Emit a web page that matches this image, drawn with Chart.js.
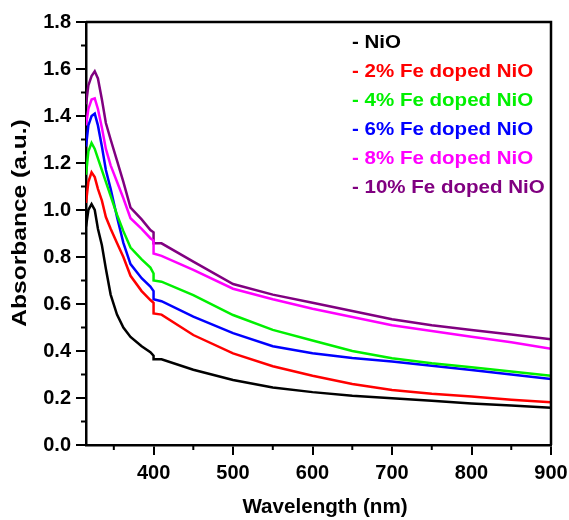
<!DOCTYPE html>
<html>
<head>
<meta charset="utf-8">
<script src="https://cdn.jsdelivr.net/npm/chart.js@4.4.1/dist/chart.umd.min.js"></script>
<style>
    html, body { margin: 0; padding: 0; background: #fff; }
    #wrap { width: 569px; height: 520px; }
</style>
</head>
<body>
<div id="wrap"><canvas id="myChart" width="569" height="520"></canvas></div>
<script>
// wavelengths (nm); 400 appears twice because of the lamp change step
const wavelengths = [315, 318, 322, 326, 330, 335, 340, 346, 354, 362, 371, 385, 396, 400, 400, 410, 450, 500, 550, 600, 650, 700, 750, 800, 850, 900];

const labels = ['NiO', '2% Fe doped NiO', '4% Fe doped NiO', '6% Fe doped NiO', '8% Fe doped NiO', '10% Fe doped NiO'];
const colors = ['#000000', '#ff0000', '#00f000', '#0000ff', '#ff00ff', '#800080'];

const nio   = [0.93, 1.00, 1.025, 1.00, 0.92, 0.85, 0.75, 0.64, 0.555, 0.50, 0.46, 0.42, 0.395, 0.38, 0.365, 0.365, 0.32, 0.277, 0.245, 0.225, 0.21, 0.199, 0.188, 0.177, 0.168, 0.159];
const fe2   = [1.03, 1.12, 1.16, 1.14, 1.09, 1.04, 0.97, 0.92, 0.86, 0.80, 0.72, 0.655, 0.617, 0.605, 0.56, 0.555, 0.468, 0.39, 0.335, 0.295, 0.26, 0.234, 0.218, 0.206, 0.193, 0.182];
const fe4   = [1.15, 1.25, 1.285, 1.26, 1.22, 1.17, 1.12, 1.06, 0.98, 0.91, 0.84, 0.79, 0.755, 0.73, 0.70, 0.695, 0.638, 0.553, 0.49, 0.445, 0.40, 0.369, 0.348, 0.331, 0.313, 0.295];
const fe6   = [1.27, 1.36, 1.40, 1.41, 1.36, 1.27, 1.17, 1.09, 0.97, 0.86, 0.77, 0.71, 0.674, 0.655, 0.62, 0.612, 0.546, 0.476, 0.42, 0.39, 0.37, 0.355, 0.337, 0.319, 0.30, 0.281];
const fe8   = [1.36, 1.43, 1.47, 1.475, 1.43, 1.35, 1.26, 1.19, 1.12, 1.05, 0.965, 0.92, 0.88, 0.87, 0.815, 0.805, 0.745, 0.665, 0.62, 0.58, 0.545, 0.51, 0.485, 0.461, 0.437, 0.41];
const fe10  = [1.45, 1.53, 1.57, 1.59, 1.56, 1.47, 1.37, 1.30, 1.21, 1.12, 1.01, 0.96, 0.915, 0.905, 0.858, 0.858, 0.78, 0.685, 0.64, 0.605, 0.57, 0.535, 0.51, 0.489, 0.47, 0.45];

const series = [nio, fe2, fe4, fe6, fe8, fe10];

const xTicks = [400, 500, 600, 700, 800, 900];
const xMinor = [350, 450, 550, 650, 750, 850];
const yMinor = [0.1, 0.3, 0.5, 0.7, 0.9, 1.1, 1.3, 1.5, 1.7];

const fontFamily = '"Liberation Sans", Arial, sans-serif';

// рамка сверху/справа, малые засечки, подписи осей и легенда
const framePlugin = {
    id: 'framePlugin',
    afterDraw(chart) {
        const ctx = chart.ctx;
        const area = chart.chartArea;
        const xs = chart.scales.x;
        const ys = chart.scales.y;
        ctx.save();
        ctx.strokeStyle = '#000';
        ctx.lineWidth = 2.5;
        ctx.beginPath();
        ctx.moveTo(area.left, area.top);
        ctx.lineTo(area.right, area.top);
        ctx.lineTo(area.right, area.bottom);
        ctx.stroke();

        ctx.lineWidth = 2;
        xMinor.forEach(v => {
            const px = xs.getPixelForValue(v);
            ctx.beginPath();
            ctx.moveTo(px, area.bottom);
            ctx.lineTo(px, area.bottom + 5);
            ctx.stroke();
        });
        yMinor.forEach(v => {
            const py = ys.getPixelForValue(v);
            ctx.beginPath();
            ctx.moveTo(area.left, py);
            ctx.lineTo(area.left - 5, py);
            ctx.stroke();
        });

        // подписи осей
        ctx.fillStyle = '#000';
        ctx.textAlign = 'center';
        ctx.textBaseline = 'middle';
        ctx.font = 'bold 20px ' + fontFamily;
        ctx.save();
        ctx.translate(325, 507);
        ctx.scale(1.03, 1);
        ctx.fillText('Wavelength (nm)', 0, 0);
        ctx.restore();

        ctx.save();
        ctx.translate(20, 223);
        ctx.rotate(-Math.PI / 2);
        ctx.scale(1.17, 1);
        ctx.font = 'bold 21px ' + fontFamily;
        ctx.fillText('Absorbance (a.u.)', 0, 0);
        ctx.restore();

        // легенда
        ctx.font = 'bold 19px ' + fontFamily;
        ctx.textAlign = 'left';
        chart.data.datasets.forEach((ds, i) => {
            ctx.save();
            ctx.translate(352, 43 + i * 29);
            ctx.scale(1.08, 1);
            ctx.fillStyle = ds.borderColor;
            ctx.fillText('- ' + ds.label, 0, 0);
            ctx.restore();
        });
        ctx.restore();
    }
};

const ctx = document.getElementById('myChart').getContext('2d');

const myChart = new Chart(ctx, {
    type: 'line',
    data: {
        datasets: series.map((vals, i) => ({
            label: labels[i],
            data: wavelengths.map((w, j) => ({x: w, y: vals[j]})),
            borderColor: colors[i],
            backgroundColor: colors[i],
            borderWidth: 2.5,
            pointRadius: 0,
            tension: 0,
            fill: false,
        }))
    },
    options: {
        responsive: false,
        animation: false,
        layout: {
            padding: {top: 22, right: 18, left: 0, bottom: 0}
        },
        plugins: {
            legend: {display: false},
            tooltip: {enabled: false}
        },
        scales: {
            x: {
                type: 'linear',
                min: 315,
                max: 900,
                afterBuildTicks: (scale) => {
                    scale.ticks = xTicks.map(v => ({value: v}));
                },
                afterFit: (scale) => {
                    scale.height = 75;
                    scale.paddingRight = 0;
                },
                grid: {
                    drawOnChartArea: false,
                    drawTicks: true,
                    tickLength: 10,
                    color: '#000',
                    lineWidth: 2,
                },
                border: {display: true, color: '#000', width: 2.5},
                ticks: {
                    color: '#000',
                    padding: 6,
                    font: {family: fontFamily, size: 20, weight: 'bold'},
                },
            },
            y: {
                min: 0,
                max: 1.8,
                afterFit: (scale) => { scale.width = 86; },
                grid: {
                    drawOnChartArea: false,
                    drawTicks: true,
                    tickLength: 10,
                    color: '#000',
                    lineWidth: 2,
                },
                border: {display: true, color: '#000', width: 2.5},
                ticks: {
                    stepSize: 0.2,
                    color: '#000',
                    padding: 5,
                    font: {family: fontFamily, size: 20, weight: 'bold'},
                    callback: (v) => v.toFixed(1),
                },
            }
        }
    },
    plugins: [framePlugin]
});
</script>
</body>
</html>
